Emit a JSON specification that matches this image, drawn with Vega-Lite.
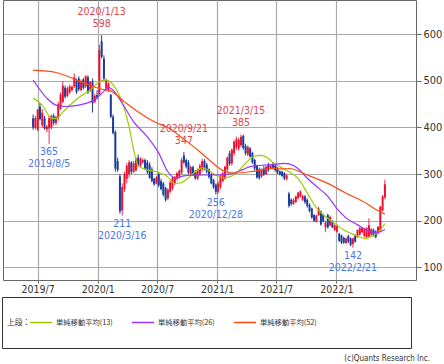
{
  "$schema": "https://vega.github.io/schema/vega-lite/v6.json",
  "width": 413,
  "height": 280,
  "padding": {"left": 3, "top": 0, "right": 28, "bottom": 84},
  "autosize": {"type": "none"},
  "background": "#ffffff",
  "config": {
    "view": {"stroke": "#666666", "strokeWidth": 1},
    "font": "Liberation Sans Narrow, DejaVu Sans Condensed, sans-serif"
  },
  "title": {
    "text": "(c)Quants Research Inc.",
    "orient": "bottom",
    "anchor": "end",
    "frame": "group",
    "offset": 6,
    "dx": 14,
    "fontSize": 8,
    "fontWeight": "normal",
    "color": "#333333",
    "font": "Liberation Sans Narrow, DejaVu Sans Condensed, sans-serif"
  },
  "datasets": {
    "candles": [
      {"d":"2019/06/17","o":420,"h":428,"l":395,"c":400},
      {"d":"2019/06/24","o":400,"h":425,"l":396,"c":420},
      {"d":"2019/07/01","o":395,"h":440,"l":392,"c":438},
      {"d":"2019/07/08","o":445,"h":452,"l":415,"c":418},
      {"d":"2019/07/15","o":405,"h":440,"l":400,"c":432},
      {"d":"2019/07/22","o":420,"h":425,"l":395,"c":398},
      {"d":"2019/07/29","o":396,"h":405,"l":390,"c":402},
      {"d":"2019/08/05","o":398,"h":425,"l":365,"c":420},
      {"d":"2019/08/12","o":400,"h":428,"l":396,"c":425},
      {"d":"2019/08/19","o":425,"h":430,"l":405,"c":410},
      {"d":"2019/08/26","o":410,"h":425,"l":405,"c":422},
      {"d":"2019/09/02","o":420,"h":455,"l":415,"c":450},
      {"d":"2019/09/09","o":440,"h":475,"l":438,"c":470},
      {"d":"2019/09/16","o":455,"h":500,"l":452,"c":490},
      {"d":"2019/09/23","o":485,"h":490,"l":462,"c":466},
      {"d":"2019/09/30","o":468,"h":488,"l":465,"c":484},
      {"d":"2019/10/07","o":475,"h":492,"l":472,"c":488},
      {"d":"2019/10/14","o":480,"h":490,"l":478,"c":488},
      {"d":"2019/10/21","o":488,"h":516,"l":485,"c":508},
      {"d":"2019/10/28","o":500,"h":505,"l":472,"c":476},
      {"d":"2019/11/04","o":505,"h":510,"l":478,"c":482},
      {"d":"2019/11/11","o":480,"h":503,"l":478,"c":500},
      {"d":"2019/11/18","o":503,"h":506,"l":482,"c":485},
      {"d":"2019/11/25","o":488,"h":512,"l":485,"c":510},
      {"d":"2019/12/02","o":508,"h":512,"l":472,"c":475},
      {"d":"2019/12/09","o":480,"h":500,"l":476,"c":498},
      {"d":"2019/12/16","o":498,"h":505,"l":432,"c":452},
      {"d":"2019/12/23","o":455,"h":472,"l":452,"c":468},
      {"d":"2019/12/30","o":470,"h":480,"l":460,"c":465},
      {"d":"2020/01/06","o":472,"h":578,"l":468,"c":566},
      {"d":"2020/01/13","o":585,"h":598,"l":548,"c":552},
      {"d":"2020/01/20","o":548,"h":555,"l":500,"c":505},
      {"d":"2020/01/27","o":482,"h":505,"l":478,"c":502},
      {"d":"2020/02/03","o":480,"h":497,"l":476,"c":494},
      {"d":"2020/02/10","o":470,"h":472,"l":420,"c":423},
      {"d":"2020/02/17","o":423,"h":428,"l":385,"c":388},
      {"d":"2020/02/24","o":390,"h":394,"l":305,"c":312},
      {"d":"2020/03/02","o":328,"h":335,"l":305,"c":309},
      {"d":"2020/03/09","o":295,"h":300,"l":215,"c":220},
      {"d":"2020/03/16","o":222,"h":280,"l":211,"c":272},
      {"d":"2020/03/23","o":268,"h":305,"l":262,"c":300},
      {"d":"2020/03/30","o":290,"h":323,"l":280,"c":318},
      {"d":"2020/04/06","o":300,"h":330,"l":292,"c":325},
      {"d":"2020/04/13","o":325,"h":328,"l":300,"c":305},
      {"d":"2020/04/20","o":305,"h":328,"l":302,"c":323},
      {"d":"2020/04/27","o":308,"h":337,"l":305,"c":332},
      {"d":"2020/05/04","o":335,"h":342,"l":316,"c":320},
      {"d":"2020/05/11","o":318,"h":336,"l":315,"c":333},
      {"d":"2020/05/18","o":325,"h":334,"l":322,"c":330},
      {"d":"2020/05/25","o":330,"h":333,"l":310,"c":312},
      {"d":"2020/06/01","o":325,"h":330,"l":300,"c":305},
      {"d":"2020/06/08","o":320,"h":325,"l":290,"c":292},
      {"d":"2020/06/15","o":310,"h":315,"l":282,"c":285},
      {"d":"2020/06/22","o":290,"h":292,"l":275,"c":278},
      {"d":"2020/06/29","o":280,"h":296,"l":278,"c":293},
      {"d":"2020/07/06","o":300,"h":305,"l":272,"c":276},
      {"d":"2020/07/13","o":285,"h":290,"l":265,"c":268},
      {"d":"2020/07/20","o":280,"h":283,"l":252,"c":256},
      {"d":"2020/07/27","o":270,"h":273,"l":241,"c":245},
      {"d":"2020/08/03","o":248,"h":270,"l":244,"c":266},
      {"d":"2020/08/10","o":262,"h":286,"l":259,"c":282},
      {"d":"2020/08/17","o":270,"h":295,"l":265,"c":292},
      {"d":"2020/08/24","o":280,"h":296,"l":276,"c":294},
      {"d":"2020/08/31","o":290,"h":305,"l":286,"c":302},
      {"d":"2020/09/07","o":295,"h":310,"l":290,"c":307},
      {"d":"2020/09/14","o":303,"h":335,"l":300,"c":330},
      {"d":"2020/09/21","o":340,"h":347,"l":322,"c":325},
      {"d":"2020/09/28","o":330,"h":333,"l":312,"c":316},
      {"d":"2020/10/05","o":325,"h":330,"l":300,"c":303},
      {"d":"2020/10/12","o":300,"h":318,"l":296,"c":315},
      {"d":"2020/10/19","o":315,"h":318,"l":296,"c":298},
      {"d":"2020/10/26","o":305,"h":309,"l":288,"c":291},
      {"d":"2020/11/02","o":290,"h":312,"l":288,"c":309},
      {"d":"2020/11/09","o":300,"h":322,"l":296,"c":318},
      {"d":"2020/11/16","o":310,"h":333,"l":305,"c":328},
      {"d":"2020/11/23","o":328,"h":332,"l":308,"c":312},
      {"d":"2020/11/30","o":320,"h":324,"l":301,"c":305},
      {"d":"2020/12/07","o":310,"h":312,"l":290,"c":294},
      {"d":"2020/12/14","o":300,"h":302,"l":278,"c":280},
      {"d":"2020/12/21","o":287,"h":290,"l":268,"c":272},
      {"d":"2020/12/28","o":277,"h":280,"l":256,"c":262},
      {"d":"2021/01/04","o":262,"h":285,"l":258,"c":280},
      {"d":"2021/01/11","o":272,"h":300,"l":268,"c":295},
      {"d":"2021/01/18","o":285,"h":305,"l":282,"c":302},
      {"d":"2021/01/25","o":290,"h":318,"l":288,"c":316},
      {"d":"2021/02/01","o":310,"h":338,"l":305,"c":335},
      {"d":"2021/02/08","o":345,"h":350,"l":318,"c":322},
      {"d":"2021/02/15","o":323,"h":355,"l":318,"c":352},
      {"d":"2021/02/22","o":345,"h":372,"l":340,"c":370},
      {"d":"2021/03/01","o":358,"h":380,"l":352,"c":375},
      {"d":"2021/03/08","o":355,"h":378,"l":350,"c":374},
      {"d":"2021/03/15","o":362,"h":385,"l":358,"c":380},
      {"d":"2021/03/22","o":382,"h":384,"l":352,"c":356},
      {"d":"2021/03/29","o":360,"h":365,"l":340,"c":345},
      {"d":"2021/04/05","o":342,"h":362,"l":338,"c":358},
      {"d":"2021/04/12","o":355,"h":358,"l":335,"c":338},
      {"d":"2021/04/19","o":345,"h":348,"l":322,"c":325},
      {"d":"2021/04/26","o":330,"h":333,"l":308,"c":312},
      {"d":"2021/05/03","o":318,"h":320,"l":290,"c":293},
      {"d":"2021/05/10","o":310,"h":314,"l":288,"c":292},
      {"d":"2021/05/17","o":295,"h":312,"l":292,"c":310},
      {"d":"2021/05/24","o":312,"h":318,"l":296,"c":300},
      {"d":"2021/05/31","o":300,"h":318,"l":298,"c":316},
      {"d":"2021/06/07","o":320,"h":324,"l":305,"c":308},
      {"d":"2021/06/14","o":312,"h":320,"l":310,"c":318},
      {"d":"2021/06/21","o":322,"h":326,"l":310,"c":314},
      {"d":"2021/06/28","o":318,"h":320,"l":305,"c":308},
      {"d":"2021/07/05","o":312,"h":315,"l":300,"c":304},
      {"d":"2021/07/12","o":306,"h":308,"l":297,"c":299},
      {"d":"2021/07/19","o":305,"h":307,"l":294,"c":296},
      {"d":"2021/07/26","o":302,"h":304,"l":287,"c":290},
      {"d":"2021/08/02","o":290,"h":300,"l":286,"c":297},
      {"d":"2021/08/09","o":258,"h":262,"l":228,"c":232},
      {"d":"2021/08/16","o":245,"h":248,"l":232,"c":236},
      {"d":"2021/08/23","o":236,"h":248,"l":234,"c":244},
      {"d":"2021/08/30","o":240,"h":254,"l":238,"c":252},
      {"d":"2021/09/06","o":248,"h":262,"l":246,"c":260},
      {"d":"2021/09/13","o":252,"h":265,"l":250,"c":263},
      {"d":"2021/09/20","o":245,"h":256,"l":242,"c":253},
      {"d":"2021/09/27","o":252,"h":255,"l":236,"c":240},
      {"d":"2021/10/04","o":245,"h":248,"l":228,"c":232},
      {"d":"2021/10/11","o":234,"h":237,"l":218,"c":221},
      {"d":"2021/10/18","o":226,"h":228,"l":204,"c":207},
      {"d":"2021/10/25","o":212,"h":214,"l":197,"c":200},
      {"d":"2021/11/01","o":198,"h":213,"l":196,"c":211},
      {"d":"2021/11/08","o":212,"h":230,"l":210,"c":226},
      {"d":"2021/11/15","o":220,"h":222,"l":189,"c":192},
      {"d":"2021/11/22","o":212,"h":215,"l":196,"c":199},
      {"d":"2021/11/29","o":186,"h":200,"l":176,"c":196},
      {"d":"2021/12/06","o":212,"h":215,"l":183,"c":186},
      {"d":"2021/12/13","o":190,"h":211,"l":188,"c":208},
      {"d":"2021/12/20","o":198,"h":201,"l":184,"c":186},
      {"d":"2021/12/27","o":180,"h":192,"l":178,"c":190},
      {"d":"2022/01/03","o":176,"h":192,"l":174,"c":188},
      {"d":"2022/01/10","o":172,"h":174,"l":154,"c":157},
      {"d":"2022/01/17","o":168,"h":170,"l":150,"c":153},
      {"d":"2022/01/24","o":163,"h":166,"l":150,"c":153},
      {"d":"2022/01/31","o":152,"h":164,"l":150,"c":162},
      {"d":"2022/02/07","o":167,"h":170,"l":152,"c":155},
      {"d":"2022/02/14","o":162,"h":164,"l":145,"c":148},
      {"d":"2022/02/21","o":150,"h":163,"l":142,"c":162},
      {"d":"2022/02/28","o":168,"h":170,"l":153,"c":155},
      {"d":"2022/03/07","o":166,"h":181,"l":163,"c":180},
      {"d":"2022/03/14","o":170,"h":186,"l":168,"c":184},
      {"d":"2022/03/21","o":175,"h":186,"l":173,"c":184},
      {"d":"2022/03/28","o":167,"h":184,"l":165,"c":182},
      {"d":"2022/04/04","o":165,"h":186,"l":163,"c":184},
      {"d":"2022/04/11","o":166,"h":205,"l":164,"c":190},
      {"d":"2022/04/18","o":170,"h":184,"l":168,"c":182},
      {"d":"2022/04/25","o":180,"h":183,"l":166,"c":168},
      {"d":"2022/05/02","o":177,"h":179,"l":162,"c":165},
      {"d":"2022/05/09","o":173,"h":188,"l":170,"c":187},
      {"d":"2022/05/16","o":177,"h":232,"l":175,"c":230},
      {"d":"2022/05/23","o":222,"h":255,"l":220,"c":252},
      {"d":"2022/05/30","o":250,"h":288,"l":246,"c":278}
    ],
    "ma": [
      {"d":"2019/06/17","s":"13","v":463},{"d":"2019/07/15","s":"13","v":448},{"d":"2019/08/12","s":"13","v":420},{"d":"2019/08/26","s":"13","v":419},{"d":"2019/09/16","s":"13","v":433},{"d":"2019/10/14","s":"13","v":452},{"d":"2019/11/11","s":"13","v":468},{"d":"2019/12/09","s":"13","v":480},{"d":"2020/01/06","s":"13","v":498},{"d":"2020/01/20","s":"13","v":502},{"d":"2020/02/03","s":"13","v":500},{"d":"2020/02/17","s":"13","v":492},{"d":"2020/03/09","s":"13","v":466},{"d":"2020/04/06","s":"13","v":402},{"d":"2020/04/20","s":"13","v":352},{"d":"2020/05/04","s":"13","v":318},{"d":"2020/06/01","s":"13","v":309},{"d":"2020/06/29","s":"13","v":305},{"d":"2020/08/03","s":"13","v":294},{"d":"2020/08/24","s":"13","v":280},{"d":"2020/09/14","s":"13","v":282},{"d":"2020/10/05","s":"13","v":292},{"d":"2020/10/26","s":"13","v":305},{"d":"2020/11/16","s":"13","v":314},{"d":"2020/12/07","s":"13","v":307},{"d":"2020/12/28","s":"13","v":298},{"d":"2021/01/18","s":"13","v":292},{"d":"2021/02/08","s":"13","v":294},{"d":"2021/03/01","s":"13","v":302},{"d":"2021/03/22","s":"13","v":318},{"d":"2021/04/19","s":"13","v":336},{"d":"2021/05/10","s":"13","v":340},{"d":"2021/05/31","s":"13","v":337},{"d":"2021/06/21","s":"13","v":325},{"d":"2021/07/12","s":"13","v":316},{"d":"2021/08/09","s":"13","v":305},{"d":"2021/09/06","s":"13","v":291},{"d":"2021/10/04","s":"13","v":259},{"d":"2021/11/01","s":"13","v":228},{"d":"2021/11/29","s":"13","v":209},{"d":"2021/12/27","s":"13","v":194},{"d":"2022/01/24","s":"13","v":180},{"d":"2022/02/28","s":"13","v":169},{"d":"2022/03/28","s":"13","v":162},{"d":"2022/04/25","s":"13","v":169},{"d":"2022/05/16","s":"13","v":180},{"d":"2022/05/30","s":"13","v":194},
      {"d":"2019/06/17","s":"26","v":502},{"d":"2019/07/29","s":"26","v":463},{"d":"2019/08/26","s":"26","v":448},{"d":"2019/09/23","s":"26","v":445},{"d":"2019/11/04","s":"26","v":448},{"d":"2019/12/09","s":"26","v":455},{"d":"2019/12/30","s":"26","v":464},{"d":"2020/01/20","s":"26","v":478},{"d":"2020/02/03","s":"26","v":486},{"d":"2020/02/17","s":"26","v":480},{"d":"2020/03/16","s":"26","v":452},{"d":"2020/04/20","s":"26","v":412},{"d":"2020/06/01","s":"26","v":380},{"d":"2020/07/06","s":"26","v":345},{"d":"2020/08/03","s":"26","v":305},{"d":"2020/08/24","s":"26","v":292},{"d":"2020/09/21","s":"26","v":296},{"d":"2020/11/02","s":"26","v":298},{"d":"2020/12/28","s":"26","v":298},{"d":"2021/02/08","s":"26","v":300},{"d":"2021/03/22","s":"26","v":310},{"d":"2021/04/12","s":"26","v":316},{"d":"2021/05/17","s":"26","v":319},{"d":"2021/06/28","s":"26","v":321},{"d":"2021/07/26","s":"26","v":323},{"d":"2021/08/09","s":"26","v":322},{"d":"2021/09/06","s":"26","v":312},{"d":"2021/10/04","s":"26","v":291},{"d":"2021/11/01","s":"26","v":274},{"d":"2021/12/06","s":"26","v":252},{"d":"2022/01/03","s":"26","v":226},{"d":"2022/01/31","s":"26","v":206},{"d":"2022/03/07","s":"26","v":191},{"d":"2022/04/04","s":"26","v":180},{"d":"2022/05/02","s":"26","v":174},{"d":"2022/05/30","s":"26","v":181},
      {"d":"2019/06/17","s":"52","v":523},{"d":"2019/08/26","s":"52","v":518},{"d":"2019/09/30","s":"52","v":510},{"d":"2019/11/04","s":"52","v":500},{"d":"2019/12/09","s":"52","v":490},{"d":"2020/01/13","s":"52","v":482},{"d":"2020/02/10","s":"52","v":478},{"d":"2020/03/23","s":"52","v":455},{"d":"2020/05/11","s":"52","v":430},{"d":"2020/06/29","s":"52","v":410},{"d":"2020/08/03","s":"52","v":400},{"d":"2020/09/21","s":"52","v":375},{"d":"2020/11/09","s":"52","v":348},{"d":"2020/12/21","s":"52","v":322},{"d":"2021/01/18","s":"52","v":308},{"d":"2021/02/22","s":"52","v":302},{"d":"2021/04/12","s":"52","v":305},{"d":"2021/05/17","s":"52","v":309},{"d":"2021/06/14","s":"52","v":312},{"d":"2021/07/26","s":"52","v":311},{"d":"2021/08/09","s":"52","v":312},{"d":"2021/10/04","s":"52","v":298},{"d":"2021/12/06","s":"52","v":280},{"d":"2022/01/31","s":"52","v":259},{"d":"2022/04/04","s":"52","v":237},{"d":"2022/05/02","s":"52","v":224},{"d":"2022/05/30","s":"52","v":214}
    ],
    "highs": [
      {"d":"2020/01/13","v":598,"t":"2020/1/13\n598"},
      {"d":"2020/09/21","v":347,"t":"2020/9/21\n347"},
      {"d":"2021/03/15","v":385,"t":"2021/3/15\n385"}
    ],
    "lows": [
      {"d":"2019/08/05","v":365,"t":"365\n2019/8/5"},
      {"d":"2020/03/16","v":211,"t":"211\n2020/3/16"},
      {"d":"2020/12/28","v":256,"t":"256\n2020/12/28"},
      {"d":"2022/02/21","v":142,"t":"142\n2022/2/21"}
    ]
  },
  "layer": [
    {
      "data": {"name": "candles"},
      "mark": {"type": "rule", "strokeWidth": 1},
      "encoding": {
        "x": {
          "field": "d", "type": "temporal", "title": null,
          "scale": {"domain": ["2019/04/01", "2022/08/18"], "nice": false},
          "axis": {
            "orient": "bottom",
            "values": ["2019/07/01", "2020/01/01", "2020/07/01", "2021/01/01", "2021/07/01", "2022/01/01"],
            "format": "%Y/%-m",
            "grid": true, "gridColor": "#aaaaaa", "gridWidth": 1.2,
            "domain": false, "ticks": true, "tickSize": 3, "tickColor": "#666666",
            "labelPadding": 1, "labelFontSize": 10.5, "labelColor": "#333333",
            "labelFlush": false, "labelOverlap": false
          }
        },
        "y": {
          "field": "l", "type": "quantitative", "title": null,
          "scale": {"domain": [72.7, 673.6], "nice": false, "zero": false},
          "axis": {
            "orient": "right",
            "values": [100, 200, 300, 400, 500, 600],
            "grid": true, "gridColor": "#aaaaaa", "gridWidth": 1.2,
            "domain": false, "tickSize": 5, "tickColor": "#666666",
            "labelPadding": 2, "labelFontSize": 11, "labelColor": "#333333"
          }
        },
        "y2": {"field": "h"},
        "color": {"condition": {"test": "datum.c >= datum.o", "value": "#f0284a"}, "value": "#1c3c9c"}
      }
    },
    {
      "data": {"name": "candles"},
      "mark": {"type": "bar", "width": 2},
      "encoding": {
        "x": {"field": "d", "type": "temporal", "scale": {"domain": ["2019/04/01", "2022/08/18"], "nice": false}},
        "y": {"field": "o", "type": "quantitative", "scale": {"domain": [72.7, 673.6], "nice": false, "zero": false}},
        "y2": {"field": "c"},
        "color": {"condition": {"test": "datum.c >= datum.o", "value": "#ee1030"}, "value": "#1c3c9c"}
      }
    },
    {
      "data": {"name": "ma"},
      "mark": {"type": "line", "strokeWidth": 1.2, "interpolate": "monotone"},
      "encoding": {
        "x": {"field": "d", "type": "temporal", "scale": {"domain": ["2019/04/01", "2022/08/18"], "nice": false}},
        "y": {"field": "v", "type": "quantitative", "scale": {"domain": [72.7, 673.6], "nice": false, "zero": false}},
        "color": {
          "field": "s",
          "type": "nominal",
          "scale": {"domain": ["13", "26", "52", "x"], "range": ["#9acd00", "#9933ff", "#ff4a10", "#ffffff"]},
          "legend": {
            "orient": "none",
            "legendX": -1,
            "legendY": 297,
            "direction": "horizontal",
            "title": "上段：",
            "titleOrient": "left",
            "titleAnchor": "middle",
            "titleBaseline": "middle",
            "titlePadding": -2,
            "titleFont": "Noto Sans CJK JP",
            "titleFontSize": 7.8,
            "titleFontWeight": "normal",
            "titleColor": "#333333",
            "labelFont": "Noto Sans CJK JP",
            "labelFontSize": 7.3,
            "labelColor": {"expr": "datum.value == 'x' ? '#ffffff' : '#333333'"},
            "labelOffset": 3,
            "labelLimit": 300,
            "labelExpr": "datum.label == 'x' ? '単純移動平均' : '単純移動平均(' + datum.label + ')'",
            "symbolType": "stroke",
            "symbolSize": 484,
            "symbolStrokeWidth": 1.5,
            "clipHeight": 41,
            "columnPadding": 18,
            "padding": 5,
            "strokeColor": "#333333"
          }
        }
      }
    },
    {
      "data": {"name": "highs"},
      "mark": {"type": "text", "baseline": "alphabetic", "align": "center", "dy": -20.5, "lineBreak": "\n", "lineHeight": 12, "fontSize": 10.5, "color": "#e0464a"},
      "encoding": {
        "x": {"field": "d", "type": "temporal", "scale": {"domain": ["2019/04/01", "2022/08/18"], "nice": false}},
        "y": {"field": "v", "type": "quantitative", "scale": {"domain": [72.7, 673.6], "nice": false, "zero": false}},
        "text": {"field": "t"}
      }
    },
    {
      "data": {"name": "lows"},
      "mark": {"type": "text", "baseline": "top", "align": "center", "dy": 3, "lineBreak": "\n", "lineHeight": 12, "fontSize": 10.5, "color": "#4a78e6"},
      "encoding": {
        "x": {"field": "d", "type": "temporal", "scale": {"domain": ["2019/04/01", "2022/08/18"], "nice": false}},
        "y": {"field": "v", "type": "quantitative", "scale": {"domain": [72.7, 673.6], "nice": false, "zero": false}},
        "text": {"field": "t"}
      }
    }
  ]
}
